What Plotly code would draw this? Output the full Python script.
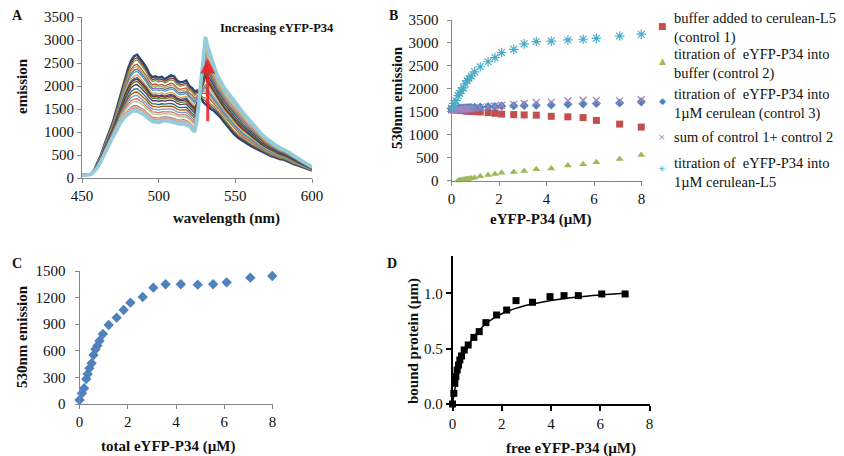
import plotly.graph_objects as go

# ---------------- data ----------------
# Panel A: two read spectra (first = no eYFP, last = max eYFP)
wavelength = [450, 453, 456, 458, 460, 462, 465, 468, 470, 473, 475, 478, 480, 482, 484, 486, 488,
              490, 492, 494, 496, 498, 500, 502, 504, 506, 508, 510, 512, 514, 516, 518, 520, 522,
              523.5, 525, 527, 529, 530.5, 532, 534, 536, 538, 540, 543, 546, 549, 552, 555, 558,
              561, 564, 567, 570, 573, 576, 579, 582, 585, 588, 591, 594, 597, 600]
spectrum_first = [70, 70, 90, 180, 330, 470, 760, 1000, 1200, 1550, 1800, 2150, 2370, 2550, 2650, 2680, 2600,
                  2500, 2400, 2260, 2190, 2210, 2180, 2200, 2150, 2190, 2230, 2210, 2120, 2080, 2090, 2120, 2000, 1950,
                  1880, 1900, 1800, 1650, 1600, 1550, 1500, 1460, 1400, 1330, 1200, 1080, 960, 870, 800, 740,
                  680, 630, 570, 520, 480, 450, 410, 395, 340, 300, 270, 240, 200, 160]
spectrum_last = [60, 60, 80, 140, 220, 340, 560, 760, 880, 1060, 1200, 1330, 1390, 1440, 1460, 1460, 1420,
                 1390, 1330, 1280, 1230, 1220, 1210, 1230, 1250, 1240, 1220, 1200, 1180, 1170, 1180, 1160, 1130, 1050,
                 1000, 1250, 1900, 2700, 3070, 2850, 2650, 2450, 2250, 2130, 1950, 1820, 1700, 1560, 1420, 1300,
                 1200, 1080, 960, 870, 790, 720, 660, 620, 560, 490, 420, 360, 300, 240]

# Titration (total eYFP-P34, µM)
titration_x = [0, 0.1, 0.19, 0.28, 0.34, 0.41, 0.5, 0.58, 0.66, 0.74, 0.83, 0.97, 1.21, 1.54, 1.83,
               2.11, 2.62, 3.06, 3.57, 4.2, 4.9, 5.54, 6.1, 7.08, 7.99]
control1 = [1550, 1545, 1540, 1535, 1532, 1528, 1524, 1520, 1516, 1512, 1508, 1502, 1495, 1480, 1465,
            1448, 1437, 1430, 1425, 1400, 1388, 1372, 1310, 1230, 1165]
control2 = [-20, -15, -10, 0, 5, 10, 18, 25, 32, 40, 48, 60, 90, 120, 140,
            170, 185, 205, 245, 262, 325, 355, 400, 470, 555]
control3 = [1560, 1565, 1568, 1572, 1575, 1578, 1580, 1583, 1586, 1590, 1592, 1595, 1600, 1610, 1615,
            1625, 1630, 1638, 1642, 1648, 1665, 1672, 1680, 1690, 1715]
sum_controls = [1535, 1538, 1540, 1543, 1546, 1548, 1552, 1556, 1560, 1565, 1568, 1572, 1590, 1610, 1625,
                1640, 1660, 1680, 1700, 1710, 1740, 1750, 1745, 1735, 1760]
cerulean_L5 = [1577, 1680, 1740, 1850, 1900, 1960, 2020, 2110, 2180, 2220, 2280, 2370, 2480, 2590, 2680,
               2790, 2860, 2980, 3030, 3040, 3065, 3080, 3100, 3150, 3190]

# Panel C
emission_C = [45, 120, 177, 282, 338, 402, 459, 553, 617, 658, 714, 789, 891, 974, 1060,
              1143, 1207, 1312, 1350, 1350, 1346, 1350, 1372, 1425, 1444]

# Panel D
free_x = [0, 0.054, 0.095, 0.136, 0.19, 0.244, 0.298, 0.366, 0.475, 0.637, 0.868, 1.085, 1.356,
          1.79, 2.2, 2.58, 3.25, 3.96, 4.53, 5.11, 6.06, 7.01]
bound = [0, 0.096, 0.187, 0.247, 0.307, 0.352, 0.398, 0.434, 0.488, 0.533, 0.602, 0.654, 0.735,
         0.804, 0.849, 0.934, 0.919, 0.970, 0.979, 0.979, 0.994, 0.994]
fit_x = [0, 0.05, 0.1, 0.2, 0.3, 0.5, 0.75, 1, 1.5, 2, 2.5, 3, 4, 5, 6, 7]
fit_y = [0, 0.074, 0.138, 0.244, 0.33, 0.458, 0.569, 0.647, 0.75, 0.815, 0.859, 0.892, 0.936, 0.965, 0.985, 1.0]

legend_names = ["buffer added to cerulean-L5<br>(control 1)",
                "titration of  eYFP-P34 into<br>buffer (control 2)",
                "titration of  eYFP-P34 into<br>1µM cerulean (control 3)",
                "sum of control 1+ control 2",
                "titration of  eYFP-P34 into<br>1µM cerulean-L5"]

# ---------------- style ----------------
W, H = 844, 456
SERIF = "Liberation Serif, Times New Roman, serif"
TXT = "#111111"
spectrum_colors = ["#1F497D", "#953735", "#77933C", "#C0504D", "#9BBB59", "#8064A2", "#4BACC6", "#F79646",
                   "#2C4D75", "#772C2A", "#5F7530", "#4D3B62", "#276A7C", "#B65708", "#729ACA", "#CD7371",
                   "#AFC97A", "#9983B5", "#6FBDD1", "#F9AB6B", "#A5A5A5", "#FAC090", "#D99694", "#C3D69B",
                   "#93CDDD"]
b_colors = ["#C0504D", "#9BBB59", "#4F81BD", "#9B85C0", "#4BACC6"]
b_glyphs = ["■", "▲", "◆", "×", "✳"]


def px_x(p):
    return p / W


def px_y(p):
    return 1 - p / H


fig = go.Figure()

# Panel A spectra, weighted by titration progress
c0, cmax = emission_C[0], max(emission_C)
n = len(emission_C)
for i, c in enumerate(emission_C):
    f = (c - c0) / (cmax - c0)
    ys = [a + f * (b - a) for a, b in zip(spectrum_first, spectrum_last)]
    width = 2.4 if i == 0 else (3.6 if i == n - 1 else 1.3)
    fig.add_trace(go.Scatter(x=wavelength, y=ys, mode="lines", xaxis="x", yaxis="y",
                             line=dict(color=spectrum_colors[i % len(spectrum_colors)], width=width),
                             showlegend=False, hoverinfo="skip"))

# Panel B
b_markers = [
    dict(symbol="square", size=7, color=b_colors[0]),
    dict(symbol="triangle-up", size=7, color=b_colors[1]),
    dict(symbol="diamond", size=7, color=b_colors[2]),
    dict(symbol="x-thin-open", size=7, color=b_colors[3], line=dict(width=1.2, color=b_colors[3])),
    dict(symbol="asterisk-open", size=8, color=b_colors[4], line=dict(width=1.2, color=b_colors[4])),
]
for vals, mk, name in zip([control1, control2, control3, sum_controls, cerulean_L5], b_markers, legend_names):
    fig.add_trace(go.Scatter(x=titration_x, y=vals, mode="markers", xaxis="x2", yaxis="y2",
                             marker=mk, name=name, cliponaxis=False, showlegend=False))

# Panel C
fig.add_trace(go.Scatter(x=titration_x, y=emission_C, mode="markers", xaxis="x3", yaxis="y3",
                         marker=dict(symbol="diamond", size=8, color="#4F81BD"),
                         showlegend=False, cliponaxis=False))

# Panel D
fig.add_trace(go.Scatter(x=fit_x, y=fit_y, mode="lines", xaxis="x4", yaxis="y4",
                         line=dict(color="black", width=1.5, shape="spline"), showlegend=False))
fig.add_trace(go.Scatter(x=free_x, y=bound, mode="markers", xaxis="x4", yaxis="y4",
                         marker=dict(symbol="square", size=7, color="black"),
                         showlegend=False, cliponaxis=False))

tickfont = dict(family=SERIF, size=15, color=TXT)
excel_ax = dict(showline=True, linecolor="#868686", linewidth=1, ticks="outside", tickcolor="#868686",
                ticklen=4, showgrid=False, zeroline=False, tickfont=tickfont, automargin=False)
prism_ax = dict(showline=True, linecolor="black", linewidth=1.5, ticks="outside", tickcolor="black",
                ticklen=5, tickwidth=1.5, showgrid=False, zeroline=False, tickfont=tickfont, automargin=False)

fig.update_layout(
    width=W, height=H, margin=dict(l=0, r=0, t=0, b=0, autoexpand=False),
    paper_bgcolor="white", plot_bgcolor="white", showlegend=False,
    font=dict(family=SERIF, size=14, color=TXT),
    xaxis=dict(excel_ax, domain=[px_x(82), px_x(312)], range=[450, 600], dtick=50, anchor="y"),
    yaxis=dict(excel_ax, domain=[px_y(178), px_y(17)], range=[0, 3500], dtick=500, anchor="x"),
    xaxis2=dict(excel_ax, domain=[px_x(451.5), px_x(641.5)], range=[0, 8], dtick=2, anchor="y2"),
    yaxis2=dict(excel_ax, domain=[px_y(180.5), px_y(20)], range=[0, 3500], dtick=500, anchor="x2",
                ticklabelstandoff=5),
    xaxis3=dict(excel_ax, domain=[px_x(79.5), px_x(272.5)], range=[0, 8], dtick=2, anchor="y3"),
    yaxis3=dict(excel_ax, domain=[px_y(404), px_y(271)], range=[0, 1500], dtick=300, anchor="x3",
                ticklabelstandoff=6),
    xaxis4=dict(prism_ax, domain=[px_x(452.5), px_x(649.5)], range=[0, 8], dtick=2, anchor="y4"),
    yaxis4=dict(prism_ax, domain=[px_y(404), px_y(256)], range=[0, 1.337], tickvals=[0, 0.5, 1.0],
                tickformat=".1f", anchor="x4"),
)

ann = []


def text(x, y, s, size=15, bold=True, angle=0, xanchor="center", color=TXT, family=SERIF):
    ann.append(dict(x=px_x(x), y=px_y(y), xref="paper", yref="paper", text=f"<b>{s}</b>" if bold else s,
                    showarrow=False, textangle=angle, xanchor=xanchor, yanchor="middle", align="left",
                    font=dict(family=family, size=size, color=color)))


text(17, 15, "A", size=14)
text(393, 15, "B", size=14)
text(17, 263, "C", size=14)
text(392, 263, "D", size=14)
text(218, 28, "Increasing eYFP-P34", size=12.5, xanchor="left")
text(22, 86, "emission", angle=-90)
text(227, 218, "wavelength (nm)")
text(397, 98, "530nm emission", angle=-90)
text(541, 220, "eYFP-P34 (µM)")
text(22, 337, "530nm emission", angle=-90)
text(168, 446, "total eYFP-P34 (µM)")
text(413, 341, "bound protein (µm)", angle=-90)
text(571, 448, "free eYFP-P34 (µM)")

# legend for panel B (manual, text + key glyphs)
legend_text_y = [27.5, 64, 104, 137, 172.5]
legend_key_y = [26, 61, 101, 137, 169]
for name, ty, ky, col, g in zip(legend_names, legend_text_y, legend_key_y, b_colors, b_glyphs):
    text(672, ty, name, size=14.5, bold=False, xanchor="left")
    text(662, ky, g, size=9, bold=False, color=col, family="DejaVu Sans")

# red arrow in panel A
ann.append(dict(x=532, y=2600, ax=532, ay=1200, xref="x", yref="y", axref="x", ayref="y",
                showarrow=True, arrowhead=2, arrowsize=1, arrowwidth=3, arrowcolor="rgba(240,30,30,0.85)",
                text=""))

fig.update_layout(annotations=ann)
fig.write_html("out.html", config={"displayModeBar": False},
               post_script="document.body.style.margin='0';")
